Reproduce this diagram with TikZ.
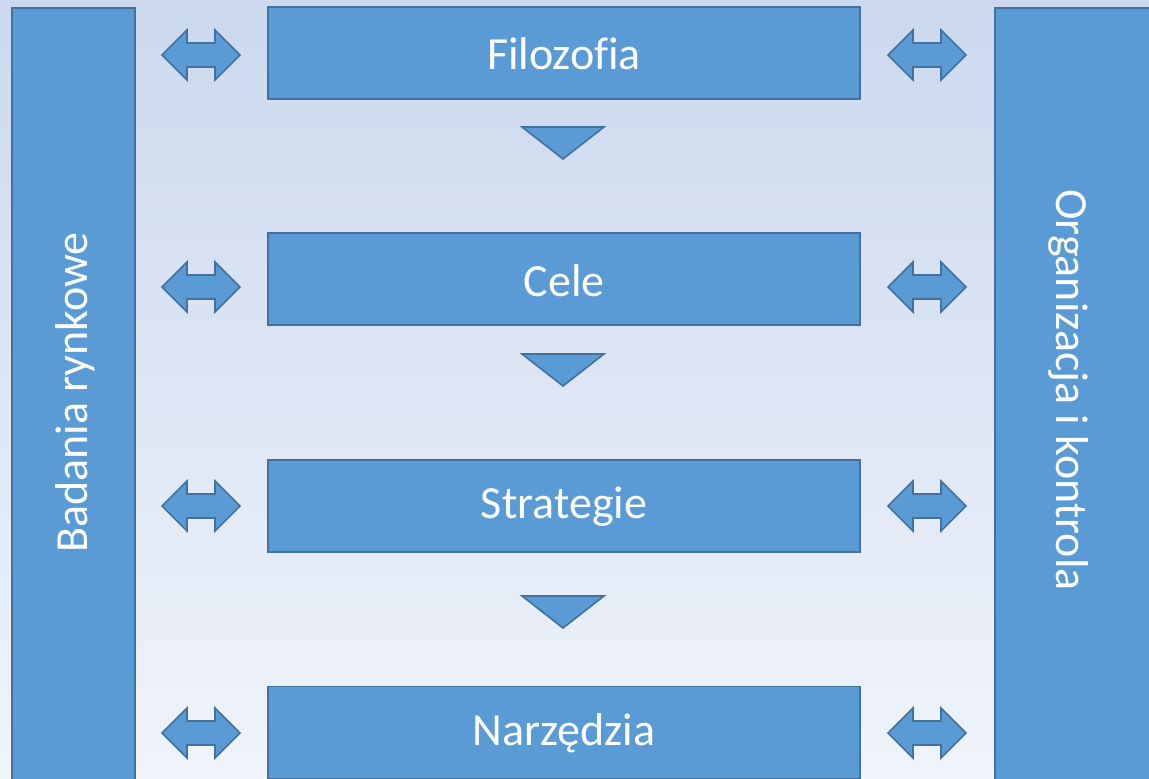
\documentclass[tikz,border=0pt]{standalone}
\usepackage{fontspec}
\setmainfont[Ligatures={NoCommon}]{Carlito}
\definecolor{fillblue}{HTML}{5B9BD5}
\definecolor{lineblue}{HTML}{41719C}
\definecolor{bgtop}{HTML}{CBD8EE}
\definecolor{bgbot}{HTML}{F0F4FB}
\tikzset{
  box/.style={draw=lineblue, fill=fillblue, line width=1.6pt, inner sep=0pt},
  lbl/.style={text=white, font=\fontsize{46}{55}\selectfont, inner sep=0pt},
  shp/.style={draw=lineblue, fill=fillblue, line width=1.6pt, line join=miter},
  dblarrow/.pic={\draw[shp] (-39,0) -- (-14,-25) -- (-14,-12) -- (14,-12) -- (14,-25) -- (39,0) -- (14,25) -- (14,12) -- (-14,12) -- (-14,25) -- cycle;},
  downtri/.pic={\draw[shp] (-41,-16) -- (41,-16) -- (0,16) -- cycle;}
}
\begin{document}
\begin{tikzpicture}[x=1pt,y=-1pt]
\useasboundingbox (0,0) rectangle (1149,779);
\clip (0,0) rectangle (1149,779);
\shade[top color=bgtop, bottom color=bgbot] (0,0) rectangle (1149,779);
% side bars
\node[box, anchor=north west, minimum width=123pt, minimum height=800pt] (lbar) at (11,7) {};
\node[box, anchor=north west, minimum width=180pt, minimum height=800pt] (rbar) at (994,7) {};
\node[lbl, rotate=90] (ltxt) at (75,392.5) {Badania rynkowe};
\node[lbl, rotate=-90] (rtxt) at (1069,390) {Organizacja i kontrola};
% center boxes
\node[box, minimum width=592pt, minimum height=92pt] (filo) at (564,53) {};
\node[lbl] at ([yshift=-1pt]filo.center) {Filozofia};
\node[box, minimum width=592pt, minimum height=92pt] (cele) at (564,279) {};
\node[lbl] at ([yshift=-2pt]cele.center) {Cele};
\node[box, minimum width=592pt, minimum height=92pt] (strat) at (564,506) {};
\node[lbl] at ([yshift=-1pt]strat.center) {Strategie};
\node[box, minimum width=592pt, minimum height=92pt] (narz) at (564,732.5) {};
\node[lbl] at ([yshift=-1pt]narz.center) {Narzędzia};
% down triangles
\pic at (563,143) {downtri};
\pic at (563,370) {downtri};
\pic at (563,612) {downtri};
% double arrows
\foreach \yy in {55,287,506,733} {
  \pic at (201,\yy) {dblarrow};
  \pic at (927,\yy) {dblarrow};
}
\end{tikzpicture}
\end{document}
